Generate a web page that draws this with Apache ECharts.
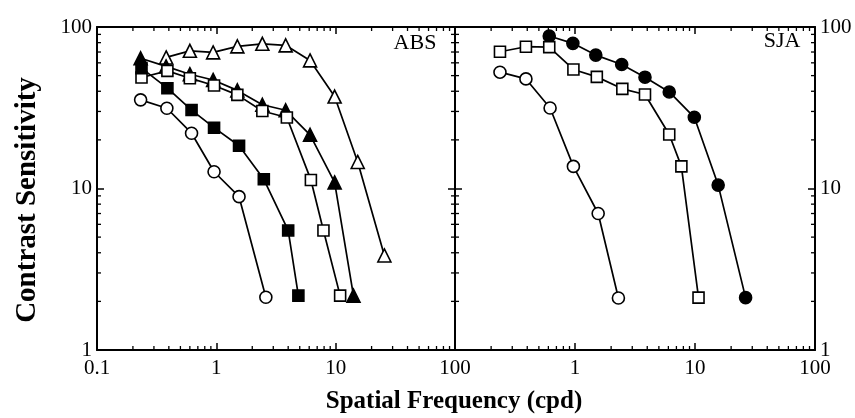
<!DOCTYPE html>
<html>
<head>
<meta charset="utf-8">
<script src="https://cdn.jsdelivr.net/npm/echarts@6/dist/echarts.min.js"></script>
<style>html,body{margin:0;padding:0;background:#fff}#c{width:855px;height:418px}</style>
</head>
<body>
<div id="c"></div>
<script>
// ---- data ----
const absOpenTriX = [0.38, 0.6, 0.94, 1.5, 2.43, 3.81, 6.1, 9.8, 15.3, 25.6];
const absOpenTriY = [64.8, 71.2, 69.6, 75.9, 78.7, 77, 62.1, 37.1, 14.6, 3.85];
const absFillTriX = [0.232, 0.379, 0.6, 0.94, 1.5, 2.43, 3.81, 6.1, 9.8, 14.1];
const absFillTriY = [64, 57, 51, 47, 40.5, 33, 30.5, 21.5, 10.9, 2.17];
const absOpenSqX = [0.236, 0.389, 0.6, 0.957, 1.5, 2.43, 3.9, 6.2, 7.9, 10.9];
const absOpenSqY = [48.7, 53.5, 48.2, 43.4, 38.0, 30.2, 27.5, 11.3, 5.5, 2.17];
const absFillSqX = [0.236, 0.389, 0.62, 0.957, 1.55, 2.5, 4.0, 4.87];
const absFillSqY = [55.6, 41.8, 30.6, 23.8, 18.4, 11.4, 5.5, 2.17];
const absOpenCirX = [0.232, 0.385, 0.62, 0.957, 1.55, 2.6];
const absOpenCirY = [35.4, 31.4, 22.0, 12.7, 8.9, 2.12];

const sjaFillCirX = [0.61, 0.96, 1.49, 2.45, 3.83, 6.1, 9.87, 15.6, 26.4];
const sjaFillCirY = [87.9, 79.2, 67, 58.6, 48.9, 39.6, 27.6, 10.5, 2.11];
const sjaOpenSqX = [0.237, 0.39, 0.61, 0.97, 1.52, 2.48, 3.83, 6.1, 7.7, 10.7];
const sjaOpenSqY = [70.3, 75.5, 75.1, 54.6, 49.1, 41.4, 38.2, 21.6, 13.7, 2.11];
const sjaOpenCirX = [0.237, 0.39, 0.62, 0.97, 1.56, 2.3];
const sjaOpenCirY = [52.5, 47.7, 31.5, 13.7, 7.0, 2.1];

const panelLabels = ['ABS', 'SJA'];
const xTitle = 'Spatial Frequency (cpd)';
const yTitle = 'Contrast Sensitivity';
const xMin = 0.1, xMax = 100, yMin = 1, yMax = 100;
const xMinorTicks = [0.2,0.3,0.4,0.5,0.6,0.7,0.8,0.9,2,3,4,5,6,7,8,9,20,30,40,50,60,70,80,90];
const yMinorTicks = [2,3,4,5,6,7,8,9,20,30,40,50,60,70,80,90];

// ---- helpers ----
const FONT = '"Liberation Serif", "Times New Roman", serif';
const zip = (xs, ys) => xs.map((x, i) => [x, ys[i]]);

function mkSeries(xs, ys, symbol, filled, xi, yi, size) {
  return {
    type: 'line', xAxisIndex: xi, yAxisIndex: yi,
    data: zip(xs, ys), symbol: symbol, symbolSize: size, showSymbol: true,
    lineStyle: { color: '#000', width: 1.7 },
    itemStyle: { color: filled ? '#000' : '#fff', borderColor: '#000', borderWidth: 1.6 },
    emphasis: { disabled: true }, animation: false, clip: false, z: 3
  };
}

function minorX(xi, yi) {
  return {
    type: 'custom', xAxisIndex: xi, yAxisIndex: yi, silent: true, animation: false, clip: false, z: 4,
    data: xMinorTicks.map(v => [v, yMin]),
    renderItem: function (params, api) {
      const v = api.value(0);
      const b = api.coord([v, yMin]);
      const t = api.coord([v, yMax]);
      const st = { stroke: '#000', lineWidth: 1.3 };
      return { type: 'group', children: [
        { type: 'line', shape: { x1: b[0], y1: b[1], x2: b[0], y2: b[1] - 4 }, style: st },
        { type: 'line', shape: { x1: t[0], y1: t[1], x2: t[0], y2: t[1] + 4 }, style: st }
      ]};
    }
  };
}
function minorY(xi, yi) {
  return {
    type: 'custom', xAxisIndex: xi, yAxisIndex: yi, silent: true, animation: false, clip: false, z: 4,
    data: yMinorTicks.map(v => [xMin, v]),
    renderItem: function (params, api) {
      const v = api.value(1);
      const l = api.coord([xMin, v]);
      const r = api.coord([xMax, v]);
      const st = { stroke: '#000', lineWidth: 1.3 };
      return { type: 'group', children: [
        { type: 'line', shape: { x1: l[0], y1: l[1], x2: l[0] + 4, y2: l[1] }, style: st },
        { type: 'line', shape: { x1: r[0], y1: r[1], x2: r[0] - 4, y2: r[1] }, style: st }
      ]};
    }
  };
}

const axLine = { show: true, onZero: false, lineStyle: { color: '#000', width: 2 } };
const axTick = { show: true, inside: true, length: 7, lineStyle: { color: '#000', width: 1.5 } };
const lbl = { color: '#000', fontFamily: FONT, fontSize: 21, showMinLabel: true, showMaxLabel: true };

function xAx(grid, pos, labels, hideFirst) {
  return {
    type: 'log', logBase: 10, gridIndex: grid, position: pos, min: xMin, max: xMax,
    axisLine: axLine, axisTick: axTick, splitLine: { show: false },
    axisLabel: labels ? Object.assign({}, lbl, { margin: 8,
      formatter: v => (hideFirst && v < 0.5) ? '' : String(v) }) : { show: false }
  };
}
function yAx(grid, pos, labels) {
  return {
    type: 'log', logBase: 10, gridIndex: grid, position: pos, min: yMin, max: yMax,
    axisLine: axLine, axisTick: axTick, splitLine: { show: false },
    axisLabel: labels ? Object.assign({}, lbl, { margin: 5, formatter: v => String(v) }) : { show: false }
  };
}

const option = {
  backgroundColor: '#fff',
  animation: false,
  grid: [
    { left: 97, top: 27, width: 358, height: 323 },
    { left: 455, top: 27, width: 360, height: 323 }
  ],
  xAxis: [xAx(0, 'bottom', true, false), xAx(0, 'top', false), xAx(1, 'bottom', true, true), xAx(1, 'top', false)],
  yAxis: [yAx(0, 'left', true), yAx(0, 'right', false), yAx(1, 'left', false), yAx(1, 'right', true)],
  series: [
    mkSeries(absOpenTriX, absOpenTriY, 'triangle', false, 0, 0, 13),
    mkSeries(absFillTriX, absFillTriY, 'triangle', true, 0, 0, 13),
    mkSeries(absOpenSqX, absOpenSqY, 'rect', false, 0, 0, 11),
    mkSeries(absFillSqX, absFillSqY, 'rect', true, 0, 0, 11),
    mkSeries(absOpenCirX, absOpenCirY, 'circle', false, 0, 0, 12),
    mkSeries(sjaFillCirX, sjaFillCirY, 'circle', true, 2, 3, 12),
    mkSeries(sjaOpenSqX, sjaOpenSqY, 'rect', false, 2, 3, 11),
    mkSeries(sjaOpenCirX, sjaOpenCirY, 'circle', false, 2, 3, 12),
    minorX(0, 0), minorY(0, 0), minorX(2, 3), minorY(2, 3)
  ],
  graphic: [
    { type: 'text', x: 415, y: 43, style: { text: panelLabels[0], font: '22px ' + FONT, fill: '#000', textAlign: 'center', textVerticalAlign: 'middle' } },
    { type: 'text', x: 782, y: 41, style: { text: panelLabels[1], font: '22px ' + FONT, fill: '#000', textAlign: 'center', textVerticalAlign: 'middle' } },
    { type: 'text', x: 454, y: 402, style: { text: xTitle, font: 'bold 25px ' + FONT, fill: '#000', textAlign: 'center', textVerticalAlign: 'middle' } },
    { type: 'text', x: 28, y: 200, rotation: Math.PI / 2, style: { text: yTitle, font: 'bold 29px ' + FONT, fill: '#000', textAlign: 'center', textVerticalAlign: 'middle' } }
  ]
};

const chart = echarts.init(document.getElementById('c'), null, { renderer: 'canvas' });
chart.setOption(option);
</script>
</body>
</html>
